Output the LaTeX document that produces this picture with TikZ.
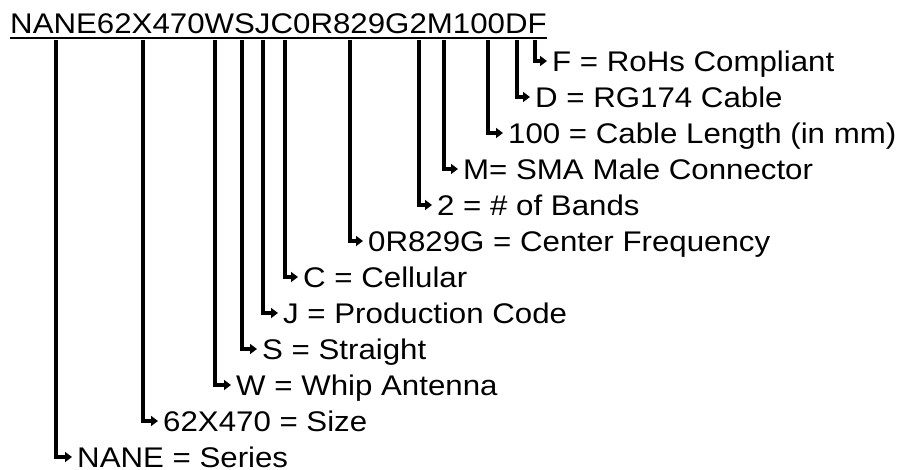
\documentclass[tikz,border=0pt]{standalone}
\usepackage{fontspec}
\setmainfont{Liberation Sans}[FakeStretch=1.1]
\usetikzlibrary{arrows.meta}

\begin{document}
\begin{tikzpicture}[
  x=1pt, y=-1pt, >={Triangle[length=7pt,width=10pt]},
  conn/.style={->,line width=4.5pt},
  lab/.style={anchor=west,inner xsep=5pt,inner ysep=0pt,text height=20.3pt,text depth=0pt},
  every node/.style={font=\fontsize{28.4}{34}\selectfont}]
\useasboundingbox (0,0) rectangle (902,469);
\node[anchor=base west,inner sep=0pt] (code) at (10,33) {NANE62X470WSJC0R829G2M100DF};
\draw[line width=2pt] ([yshift=-5pt]code.base west) -- ([yshift=-5pt]code.base east);
\coordinate (sNANE) at (56,40);
\coordinate (sSize) at (143,40);
\coordinate (sWhip) at (215,40);
\coordinate (sStr) at (242,40);
\coordinate (sProd) at (263,40);
\coordinate (sCell) at (285,40);
\coordinate (sFreq) at (350,40);
\coordinate (sBand) at (419,40);
\coordinate (sConn) at (444,40);
\coordinate (sLen) at (488,40);
\coordinate (sCab) at (517,40);
\coordinate (sRoHS) at (535,40);
\node[lab] (lRoHS) at (547,61) {F = RoHs Compliant};
\node[lab] (lCab) at (530,97) {D = RG174 Cable};
\node[lab] (lLen) at (503,133) {100 = Cable Length (in mm)};
\node[lab] (lConn) at (458,169) {M= SMA Male Connector};
\node[lab] (lBand) at (432,205) {2 = \# of Bands};
\node[lab] (lFreq) at (363,241) {0R829G = Center Frequency};
\node[lab] (lCell) at (298,277) {C = Cellular};
\node[lab] (lProd) at (278,313) {J = Production Code};
\node[lab] (lStr) at (257,349) {S = Straight};
\node[lab] (lWhip) at (231,385) {W = Whip Antenna};
\node[lab] (lSize) at (158,421) {62X470 = Size};
\node[lab] (lNANE) at (72,457) {NANE = Series};
\draw[conn] (sRoHS) |- (lRoHS.west);
\draw[conn] (sCab) |- (lCab.west);
\draw[conn] (sLen) |- (lLen.west);
\draw[conn] (sConn) |- (lConn.west);
\draw[conn] (sBand) |- (lBand.west);
\draw[conn] (sFreq) |- (lFreq.west);
\draw[conn] (sCell) |- (lCell.west);
\draw[conn] (sProd) |- (lProd.west);
\draw[conn] (sStr) |- (lStr.west);
\draw[conn] (sWhip) |- (lWhip.west);
\draw[conn] (sSize) |- (lSize.west);
\draw[conn] (sNANE) |- (lNANE.west);
\end{tikzpicture}
\end{document}
